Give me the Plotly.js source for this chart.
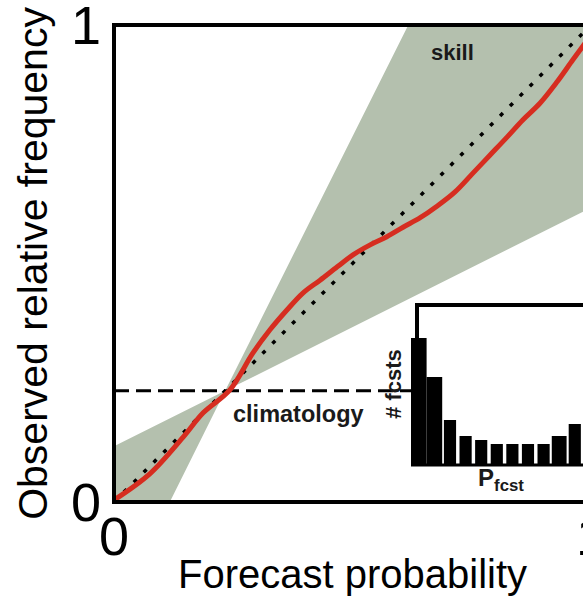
<!DOCTYPE html>
<html>
<head>
<meta charset="utf-8">
<script src="https://cdn.plot.ly/plotly-3.0.1.min.js"></script>
<style>
html,body{margin:0;padding:0;overflow:hidden;background:#fff;}
#chart{width:600px;height:596px;}
</style>
</head>
<body>
<div id="chart"></div>
<script>
// ---- data ----
// reliability curve (forecast probability vs observed relative frequency)
const relX = [0.000, 0.075, 0.145, 0.187, 0.243, 0.291, 0.327, 0.363, 0.396, 0.432, 0.468, 0.501, 0.537, 0.572, 0.606, 0.642, 0.677, 0.715, 0.753, 0.788, 0.824, 0.857, 0.893, 0.929, 0.962, 1.000];
const relY = [0.004, 0.059, 0.136, 0.187, 0.235, 0.312, 0.361, 0.403, 0.438, 0.465, 0.493, 0.518, 0.539, 0.556, 0.576, 0.596, 0.620, 0.650, 0.690, 0.727, 0.765, 0.801, 0.836, 0.881, 0.927, 0.979];
// climatology (sample base rate)
const climatology = 0.233;
// skill region vertices (shaded fan)
const skillX = [0, 0, 0.233, 0.617, 1, 1, 0.233, 0.117, 0];
const skillY = [0, 0.117, 0.233, 1, 1, 0.617, 0.233, 0, 0];
// perfect reliability diagonal
const diagX = [0, 1];
const diagY = [0, 1];
// inset histogram: forecast-probability bins and number of forecasts
const fcstBins = [1, 2, 3, 4, 5, 6, 7, 8, 9, 10, 11];
const fcstCounts = [127, 88, 45, 29, 25, 21, 21, 21, 21, 29, 41];
// tick labels
const tickVals = [0, 1];
const tickText = ['0', '1'];

const FONT = 'Liberation Sans, Arial, sans-serif';
const BOLD = 'Liberation Sans, Arial, sans-serif';

const traces = [
  {x: skillX, y: skillY, type: 'scatter', mode: 'lines', fill: 'toself',
   fillcolor: '#b4c0ae', line: {width: 0, color: '#b4c0ae'}, hoverinfo: 'skip', showlegend: false},
  {x: [0, 1], y: [climatology, climatology], type: 'scatter', mode: 'lines',
   line: {color: '#000', width: 3, dash: '15px,7px'}, showlegend: false},
  {x: diagX, y: diagY, type: 'scatter', mode: 'lines',
   line: {color: '#000', width: 3.5, dash: '4px,10px'}, showlegend: false},
  {x: relX, y: relY, type: 'scatter', mode: 'lines',
   line: {color: '#d62d20', width: 5, shape: 'spline', smoothing: 1}, showlegend: false},
  {x: fcstBins, y: fcstCounts, type: 'bar', xaxis: 'x2', yaxis: 'y2',
   marker: {color: '#000', line: {width: 0}},
   width: [1, 1, 0.78, 0.78, 0.78, 0.78, 0.78, 0.78, 0.78, 0.95, 0.78], showlegend: false}
];

const px = v => (v - 114) / 477;       // page x -> paper x
const py = v => (502 - v) / 477;       // page y -> paper y

const layout = {
  width: 600, height: 596,
  margin: {l: 114, r: 9, t: 25, b: 94, pad: 0},
  paper_bgcolor: '#fff', plot_bgcolor: '#fff',
  showlegend: false,
  font: {family: FONT, color: '#000'},
  xaxis: {
    domain: [0, 1], range: [0, 1], showgrid: false, zeroline: false, showline: false,
    tickvals: tickVals, ticktext: tickText, ticks: '', ticklabelstandoff: -2,
    ticklabeloverflow: 'allow',
    tickfont: {family: FONT, size: 54, color: '#000'},
    title: {text: 'Forecast probability', font: {family: FONT, size: 40, color: '#000'}, standoff: 19},
    fixedrange: true
  },
  yaxis: {
    domain: [0, 1], range: [0, 1], showgrid: false, zeroline: false, showline: false,
    tickvals: tickVals, ticktext: tickText, ticks: '', ticklabelstandoff: 12,
    ticklabeloverflow: 'allow',
    tickfont: {family: FONT, size: 54, color: '#000'},
    title: {text: 'Observed relative frequency', font: {family: FONT, size: 41, color: '#000'}, standoff: 10},
    fixedrange: true
  },
  xaxis2: {
    domain: [px(411), 1], range: [0.5, 12.04], anchor: 'y2',
    showgrid: false, zeroline: false, showline: false, showticklabels: false, ticks: '',
    title: {text: 'P<sub>fcst</sub>', font: {family: BOLD, size: 24, color: '#1a1a1a', weight: 'bold'}, standoff: 4},
    fixedrange: true
  },
  yaxis2: {
    domain: [py(465), py(303)], range: [0, 162], anchor: 'x2',
    showgrid: false, zeroline: false, showline: false, showticklabels: false, ticks: '',
    title: {text: '# fcsts', font: {family: BOLD, size: 22, color: '#1a1a1a', weight: 'bold'}, standoff: 2},
    fixedrange: true
  },
  annotations: [
    {text: 'skill', x: 0.709, y: 0.943, xref: 'x', yref: 'y', showarrow: false,
     font: {family: BOLD, size: 22, color: '#1a1a1a', weight: 'bold'}},
    {text: 'climatology', x: 0.386, y: 0.184, xref: 'x', yref: 'y', showarrow: false,
     font: {family: BOLD, size: 23.5, color: '#1a1a1a', weight: 'bold'}}
  ],
  shapes: [
    // main frame (right side is outside the picture)
    {type: 'line', xref: 'paper', yref: 'paper', x0: 0, x1: 0, y0: -0.004, y1: 1.004, line: {color: '#000', width: 4}, layer: 'above'},
    {type: 'line', xref: 'paper', yref: 'paper', x0: -0.004, x1: 1.1, y0: 0, y1: 0, line: {color: '#000', width: 4}, layer: 'above'},
    {type: 'line', xref: 'paper', yref: 'paper', x0: -0.004, x1: 1.1, y0: 1, y1: 1, line: {color: '#000', width: 4}, layer: 'above'},
    // inset frame
    {type: 'line', xref: 'paper', yref: 'paper', x0: px(417), x1: px(417), y0: py(465), y1: py(303), line: {color: '#000', width: 4}, layer: 'above'},
    {type: 'line', xref: 'paper', yref: 'paper', x0: px(415), x1: 1.1, y0: py(305), y1: py(305), line: {color: '#000', width: 4}, layer: 'above'},
    {type: 'line', xref: 'paper', yref: 'paper', x0: px(411), x1: 1.1, y0: py(465), y1: py(465), line: {color: '#000', width: 3}, layer: 'above'}
  ]
};

Plotly.newPlot('chart', traces, layout, {displayModeBar: false, staticPlot: true});
</script>
</body>
</html>
